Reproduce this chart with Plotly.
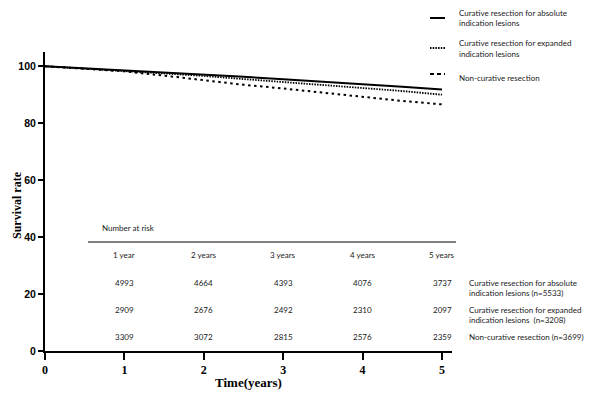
import plotly.graph_objects as go

# ---- data ----
years = [0, 0.5, 1, 1.5, 2, 2.5, 3, 3.5, 4, 4.5, 5]
surv_absolute = [100, 99.3, 98.6, 97.9, 97.1, 96.3, 95.4, 94.6, 93.8, 92.8, 91.8]
surv_expanded = [100, 99.2, 98.4, 97.5, 96.6, 95.5, 94.5, 93.5, 92.5, 91.3, 90.0]
surv_noncurative = [100, 99.1, 98.2, 96.7, 95.1, 93.5, 92.2, 90.7, 89.2, 87.8, 86.6]

risk_years = [1, 2, 3, 4, 5]
risk_headers = ["1 year", "2 years", "3 years", "4 years", "5 years"]
risk_absolute = [4993, 4664, 4393, 4076, 3737]
risk_expanded = [2909, 2676, 2492, 2310, 2097]
risk_noncurative = [3309, 3072, 2815, 2576, 2359]

legend_names = [
    ["Curative resection for absolute", "indication lesions"],
    ["Curative resection for expanded", "indication lesions"],
    ["Non-curative resection"],
]
row_labels = [
    ["Curative resection for absolute", "indication lesions (n=5533)"],
    ["Curative resection for expanded", "indication lesions  (n=3208)"],
    ["Non-curative resection (n=3699)"],
]

# ---- layout constants (true page pixels; page body has 8px margin) ----
OFF = 8
W, H = 600 - OFF, 397 - OFF
PX_X0, PX_X1 = 45, 452
PX_Y0, PX_Y1 = 351, 52
ppu_x = 79.4
xmax = (PX_X1 - PX_X0) / ppu_x
ymax = 105
ppu_y = (PX_Y0 - PX_Y1) / ymax

def px2paper_x(px):
    return (px - PX_X0) / (PX_X1 - PX_X0)

def px2paper_y(py):
    return (PX_Y0 - py) / (PX_Y0 - PX_Y1)

def py2data(py):
    return (PX_Y0 - py) / ppu_y

styles = [
    dict(color="black", width=2, dash="solid"),
    dict(color="black", width=1.8, dash="1.5px,1.2px"),
    dict(color="black", width=2, dash="2.5px,3.5px"),
]
series = [surv_absolute, surv_expanded, surv_noncurative]

fig = go.Figure()
for s, st in zip(series, styles):
    fig.add_trace(go.Scatter(x=years, y=s, mode="lines", line=st,
                             showlegend=False, hoverinfo="skip"))

txt_font = dict(family="Lato, Open Sans, sans-serif", size=8.0, color="#1a1a1a")
ann = []
shapes = []

# manual legend
leg_rows = [(13, 18), (43, 48), (78, 74)]
leg_dash = ["solid", "1.5px,1.2px", "4px,3px"]
for names, (ty, ly), dash in zip(legend_names, leg_rows, leg_dash):
    for i, n in enumerate(names):
        ann.append(dict(xref="paper", yref="paper", x=px2paper_x(457),
                        y=px2paper_y(ty + i * 10.5), text=n, showarrow=False,
                        xanchor="left", yanchor="middle", font=txt_font))
    shapes.append(dict(type="line", xref="paper", yref="paper",
                       x0=px2paper_x(430), x1=px2paper_x(445),
                       y0=px2paper_y(ly), y1=px2paper_y(ly),
                       line=dict(color="black", width=2, dash=dash)))

# number at risk table
ann.append(dict(xref="paper", yref="y", x=px2paper_x(100), y=py2data(228),
                text="Number at risk", showarrow=False, xanchor="left",
                yanchor="middle", font=txt_font))
shapes.append(dict(type="line", xref="paper", yref="paper",
                   x0=px2paper_x(88), x1=px2paper_x(456),
                   y0=px2paper_y(242), y1=px2paper_y(242),
                   line=dict(color="#555", width=1.5)))
for xv, h in zip(risk_years, risk_headers):
    ann.append(dict(x=xv, y=py2data(255), text=h, showarrow=False,
                    xanchor="center", yanchor="middle", font=txt_font))
row_py = [283, 310, 337]
for vals, labels, py in zip([risk_absolute, risk_expanded, risk_noncurative],
                            row_labels, row_py):
    for xv, v in zip(risk_years, vals):
        ann.append(dict(x=xv, y=py2data(py), text=str(v), showarrow=False,
                        xanchor="center", yanchor="middle", font=txt_font))
    for i, lab in enumerate(labels):
        ann.append(dict(xref="paper", yref="y", x=px2paper_x(467),
                        y=py2data(py + i * 10), text=lab, showarrow=False,
                        xanchor="left", yanchor="middle", font=txt_font))

# axis titles
title_font = dict(family="Liberation Serif, serif", size=13, color="black")
ann.append(dict(xref="paper", yref="paper", x=0.5, y=px2paper_y(382),
                text="<b>Time(years)</b>", showarrow=False,
                xanchor="center", yanchor="middle", font=title_font))
ann.append(dict(xref="paper", yref="paper", x=px2paper_x(17), y=px2paper_y(205),
                text="<b>Survival rate</b>", showarrow=False, textangle=-90,
                xanchor="center", yanchor="middle",
                font=dict(family="Liberation Serif, serif", size=12, color="black")))

fig.update_layout(
    width=W, height=H,
    margin=dict(l=PX_X0 - OFF, r=600 - PX_X1, t=PX_Y1 - OFF, b=397 - PX_Y0,
                autoexpand=False),
    paper_bgcolor="white", plot_bgcolor="white",
    annotations=ann, shapes=shapes,
    xaxis=dict(range=[0, xmax], tickvals=[0, 1, 2, 3, 4, 5], automargin=False,
               showgrid=False, zeroline=False, showline=True,
               linecolor="black", linewidth=2, ticks="outside", ticklen=7,
               tickwidth=1.5, tickcolor="black",
               tickfont=dict(family="Liberation Serif, serif", size=12, color="black", weight="bold")),
    yaxis=dict(range=[0, ymax], tickvals=[0, 20, 40, 60, 80, 100], automargin=False,
               showgrid=False, zeroline=False, showline=True,
               linecolor="black", linewidth=2, ticks="outside", ticklen=5,
               tickwidth=1.5, tickcolor="black",
               tickfont=dict(family="Liberation Sans, Arial, sans-serif", size=10.5, color="black", weight="bold")),
)

fig.write_html("out.html")
